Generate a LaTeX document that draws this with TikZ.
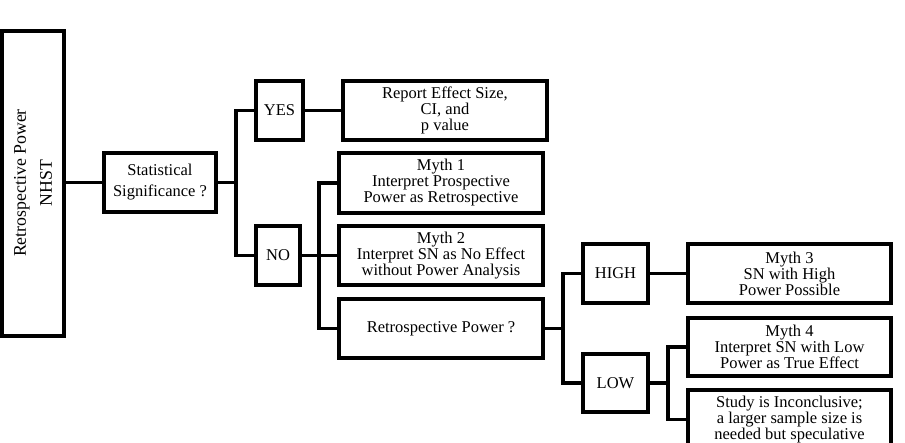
\documentclass[tikz,border=0pt]{standalone}
\usepackage{fontspec}
\setmainfont{Liberation Serif}
\begin{document}
\begin{tikzpicture}[x=1pt,y=-1pt,
  box/.style={draw=black,line width=3.2pt,rectangle,inner sep=0pt,align=center,
    font=\fontsize{16.5}{16}\selectfont},
  conn/.style={draw=black,line width=3.2pt},
  ]
\useasboundingbox (0,0) rectangle (905,442);
\node[box,minimum width=62,minimum height=305] (big) at (33,183.5) {};
\node[rotate=90,align=center,font=\fontsize{17.8}{26}\selectfont] (bigtxt) at (33,183) {Retrospective Power\\NHST};
\node[box,minimum width=112,minimum height=59] (stat) at (160,182.5) {Statistical\\[5pt]Significance ?};
\node[box,minimum width=47,minimum height=59] (yes) at (279.5,110.5) {YES};
\node[box,minimum width=44,minimum height=59] (no) at (278,255.5) {NO};
\node[box,minimum width=204,minimum height=59] (report) at (445,110.5) {Report Effect Size,\\CI, and\\p value};
\node[box,minimum width=204,minimum height=60] (myth1) at (441,183) {Myth 1\\Interpret Prospective\\Power as Retrospective};
\node[box,minimum width=204,minimum height=59] (myth2) at (441,255.5) {Myth 2\\Interpret SN as No Effect\\without Power Analysis};
\node[box,minimum width=204,minimum height=59] (retro) at (441,328.5) {Retrospective Power ?};
\node[box,minimum width=65,minimum height=59] (high) at (615.5,273.5) {HIGH};
\node[box,minimum width=65,minimum height=58] (low) at (615.5,383) {LOW};
\node[box,minimum width=203,minimum height=59] (myth3) at (789.5,273.5) {Myth 3\\SN with High\\Power Possible};
\node[box,minimum width=203,minimum height=58] (myth4) at (789.5,347) {Myth 4\\Interpret SN with Low\\Power as True Effect};
\node[box,minimum width=203,minimum height=59] (study) at (789.5,419.5) {Study is Inconclusive;\\a larger sample size is\\needed but speculative};
\coordinate (b1) at (236,182.5);
\coordinate (b2) at (319,255.5);
\coordinate (b3) at (563,328.5);
\coordinate (b4) at (668,383);
\draw[conn] (big.east |- stat.west) -- (stat.west);
\draw[conn] (stat.east) -- (b1);
\draw[conn] (yes.west) -| (b1) |- (no.west);
\draw[conn] (yes.east) -- (report.west);
\draw[conn] (no.east) -- (myth2.west);
\draw[conn] (myth1.west) -| (b2) |- (retro.west);
\draw[conn] (retro.east) -- (b3);
\draw[conn] (high.west) -| (b3) |- (low.west);
\draw[conn] (high.east) -- (myth3.west);
\draw[conn] (low.east) -- (b4);
\draw[conn] (myth4.west) -| (b4) |- (study.west);
\end{tikzpicture}
\end{document}
